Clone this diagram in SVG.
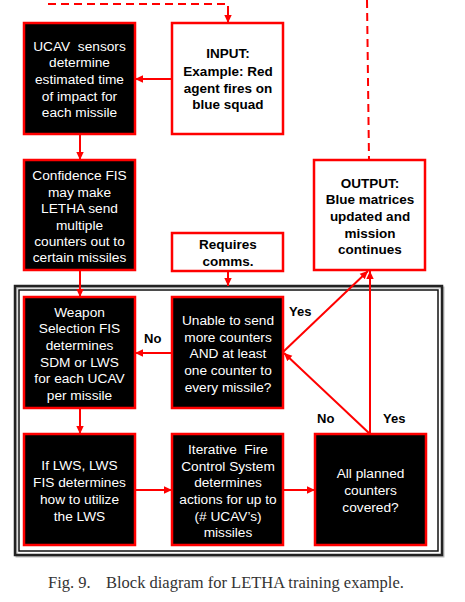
<svg xmlns="http://www.w3.org/2000/svg" width="465" height="602" viewBox="0 0 465 602">
<style>
.blk{fill:#000;stroke:#f00;stroke-width:2.5}
.wht{fill:#fff;stroke:#f00;stroke-width:2.5}
.tw{fill:#fff;font-family:"Liberation Sans",Arial,sans-serif;font-size:13.7px;text-anchor:middle}
.tb{fill:#000;font-family:"Liberation Sans",Arial,sans-serif;font-size:13.5px;font-weight:bold;text-anchor:middle}
.lbl{fill:#000;font-family:"Liberation Sans",Arial,sans-serif;font-size:13px;font-weight:bold}
.c{fill:none;stroke:#f00;stroke-width:2;marker-end:url(#ah)}
.d{fill:none;stroke:#f00;stroke-width:2;stroke-dasharray:8,5}
.cap{fill:#333;font-family:"Liberation Serif","Times New Roman",serif;font-size:16.5px}
</style>
<defs>
<marker id="ah" markerUnits="userSpaceOnUse" markerWidth="9" markerHeight="9" refX="8" refY="4.5" orient="auto">
<path d="M0,0.8 L8,4.5 L0,8.2 Z" fill="#f00"/>
</marker>
</defs>
<rect width="465" height="602" fill="#fff"/>
<g id="frame">
<rect x="16.5" y="287.5" width="427" height="269" fill="none" stroke="#bbb" stroke-width="2"/>
<rect x="15" y="286" width="427" height="269" fill="none" stroke="#222" stroke-width="2.5"/>
<rect x="19" y="290" width="419" height="261" fill="none" stroke="#111" stroke-width="1.5"/>
</g>
<g id="connectors">
<path class="d" d="M48,4 H228 V15"/>
<path class="c" d="M228,12 V23"/>
<path class="d" d="M367,0 L369,160"/>
<path class="c" d="M172,79 H135"/>
<path class="c" d="M80,134 V160"/>
<path class="c" d="M228,271 V286"/>
<path class="c" d="M80,270 V297"/>
<path class="c" d="M172,353 H135"/>
<path class="c" d="M80,408 V434"/>
<path class="c" d="M135,490 H172"/>
<path class="c" d="M283,490 H315"/>
<path class="c" d="M370,434 V271"/>
<path class="c" d="M370,434 L284,353"/>
<path class="c" d="M283,352 L368,271"/>
</g>
<g id="ucav">
<rect class="blk" x="24" y="23" width="111" height="111"/>
<text class="tw" x="79.5" y="50.5">UCAV&#160; sensors</text>
<text class="tw" x="79.5" y="67">determine</text>
<text class="tw" x="79.5" y="84">estimated time</text>
<text class="tw" x="79.5" y="100.5">of impact for</text>
<text class="tw" x="79.5" y="117">each missile</text>
</g>
<g id="input">
<rect class="wht" x="172" y="23" width="111" height="111"/>
<text class="tb" x="228" y="58">INPUT:</text>
<text class="tb" x="228" y="75.5">Example: Red</text>
<text class="tb" x="228" y="92.5">agent fires on</text>
<text class="tb" x="228" y="109">blue squad</text>
</g>
<g id="confidence">
<rect class="blk" x="24" y="160" width="111" height="110"/>
<text class="tw" x="79.5" y="180">Confidence FIS</text>
<text class="tw" x="79.5" y="196.5">may make</text>
<text class="tw" x="79.5" y="213">LETHA send</text>
<text class="tw" x="79.5" y="230">multiple</text>
<text class="tw" x="79.5" y="246">counters out to</text>
<text class="tw" x="79.5" y="262">certain missiles</text>
</g>
<g id="requires">
<rect class="wht" x="172" y="233" width="111" height="38"/>
<text class="tb" x="228" y="249">Requires</text>
<text class="tb" x="228" y="266">comms.</text>
</g>
<g id="output">
<rect class="wht" x="314" y="160" width="111" height="110"/>
<text class="tb" x="370" y="187.5">OUTPUT:</text>
<text class="tb" x="370" y="204">Blue matrices</text>
<text class="tb" x="370" y="221">updated and</text>
<text class="tb" x="370" y="237.5">mission</text>
<text class="tb" x="370" y="254">continues</text>
</g>
<g id="weapon">
<rect class="blk" x="24" y="297" width="111" height="111"/>
<text class="tw" x="79.5" y="316.5">Weapon</text>
<text class="tw" x="79.5" y="333">Selection FIS</text>
<text class="tw" x="79.5" y="350">determines</text>
<text class="tw" x="79.5" y="366.5">SDM or LWS</text>
<text class="tw" x="79.5" y="383">for each UCAV</text>
<text class="tw" x="79.5" y="400">per missile</text>
</g>
<g id="unable">
<rect class="blk" x="172" y="297" width="111" height="111"/>
<text class="tw" x="228" y="325">Unable to send</text>
<text class="tw" x="228" y="341.5">more counters</text>
<text class="tw" x="228" y="358">AND at least</text>
<text class="tw" x="228" y="375">one counter to</text>
<text class="tw" x="228" y="391.5">every missile?</text>
</g>
<g id="iflws">
<rect class="blk" x="24" y="434" width="111" height="111"/>
<text class="tw" x="79.5" y="470">If LWS, LWS</text>
<text class="tw" x="79.5" y="487">FIS determines</text>
<text class="tw" x="79.5" y="504">how to utilize</text>
<text class="tw" x="79.5" y="520.5">the LWS</text>
</g>
<g id="iterative">
<rect class="blk" x="172" y="434" width="111" height="111"/>
<text class="tw" x="228" y="454">Iterative&#160; Fire</text>
<text class="tw" x="228" y="470.5">Control System</text>
<text class="tw" x="228" y="487">determines</text>
<text class="tw" x="228" y="504">actions for up to</text>
<text class="tw" x="228" y="520.5">(# UCAV’s)</text>
<text class="tw" x="228" y="536.5">missiles</text>
</g>
<g id="allplanned">
<rect class="blk" x="315" y="434" width="111" height="111"/>
<text class="tw" x="370.5" y="478">All planned</text>
<text class="tw" x="370.5" y="495">counters</text>
<text class="tw" x="370.5" y="512">covered?</text>
</g>
<g id="labels">
<text class="lbl" x="289" y="315.5">Yes</text>
<text class="lbl" x="144" y="343">No</text>
<text class="lbl" x="317" y="423">No</text>
<text class="lbl" x="383" y="423">Yes</text>
</g>
<g id="caption">
<text class="cap" x="48" y="588">Fig. 9.</text>
<text class="cap" x="106" y="588">Block diagram for LETHA training example.</text>
</g>
</svg>
